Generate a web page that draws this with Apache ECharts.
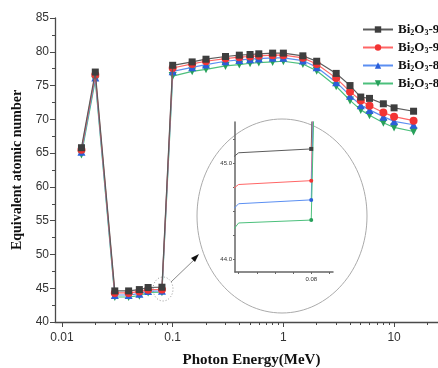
<!DOCTYPE html>
<html lang="en">

<head>
  <meta charset="UTF-8">
  <title>Equivalent atomic number</title>
  <script src="https://cdn.jsdelivr.net/npm/echarts@6/dist/echarts.min.js"></script>
  <style>
    html,
    body {
      margin: 0;
      padding: 0;
      background-color: #fff;
    }

    #chart {
      width: 438px;
      height: 368px;
    }
  </style>
</head>

<body>
  <div id="chart"></div>
  <script>
    // photon energies (MeV)
    const energy = [0.015, 0.02, 0.03, 0.04, 0.05, 0.06, 0.08, 0.1, 0.15, 0.2, 0.3, 0.4, 0.5, 0.6, 0.8, 1, 1.5, 2, 3, 4, 5, 6, 8, 10, 15];
    const names = ['Bi2O3-95', 'Bi2O3-90', 'Bi2O3-85', 'Bi2O3-80'];
    const zeqA = [65.8, 77.0, 44.6, 44.6, 44.8, 45.11, 45.15, 78.0, 78.5, 78.9, 79.3, 79.5, 79.6, 79.7, 79.8, 79.8, 79.4, 78.6, 76.8, 75.0, 73.3, 73.1, 72.3, 71.7, 71.2];
    const zeqB = [65.5, 76.6, 44.3, 44.3, 44.5, 44.78, 44.82, 77.6, 78.2, 78.6, 79.0, 79.2, 79.3, 79.4, 79.5, 79.5, 79.1, 78.2, 76.1, 74.1, 72.8, 72.0, 71.0, 70.4, 69.8];
    const zeqC = [65.2, 76.2, 44.0, 44.0, 44.2, 44.58, 44.62, 77.1, 77.7, 78.1, 78.6, 78.8, 78.9, 79.0, 79.1, 79.1, 78.7, 77.7, 75.5, 73.5, 72.1, 71.4, 70.4, 69.7, 69.2];
    const zeqD = [64.8, 75.8, 43.7, 43.7, 43.9, 44.38, 44.41, 76.4, 77.1, 77.4, 77.9, 78.1, 78.3, 78.4, 78.5, 78.6, 78.2, 77.2, 74.9, 72.8, 71.4, 70.6, 69.5, 68.8, 68.2];
    const minorTicksX = [0.02, 0.03, 0.04, 0.05, 0.06, 0.07, 0.08, 0.09, 0.2, 0.3, 0.4, 0.5, 0.6, 0.7, 0.8, 0.9, 2, 3, 4, 5, 6, 7, 8, 9, 20];
    const insetTicksX = [0.06, 0.065, 0.07, 0.075, 0.08, 0.085];
    const insetTicksY = [44, 44.25, 44.5, 44.75, 45, 45.25];

    const seriesValues = [zeqA, zeqB, zeqC, zeqD];
    const markColors = ['#3e3e3e', '#f23434', '#2b5fd9', '#27a05a'];
    const lineColors = ['#5c5c5c', '#ff6666', '#5b8ff2', '#4cc07c'];
    const symbols = ['rect', 'circle', 'triangle', 'triangle'];
    const rotates = [0, 0, 0, 180];

    const serif = 'Liberation Serif';
    const sans = 'Liberation Sans';
    const axisColor = '#4a4a4a';
    const mainGrid = { left: 55, top: 18, right: -10, bottom: 46, outerBoundsMode: 'none' };

    const series = [];
    seriesValues.forEach((vals, i) => {
      const pts = energy.map((e, k) => [e, vals[k]]);
      series.push({
        name: names[i],
        type: 'line',
        xAxisIndex: 0,
        yAxisIndex: 0,
        data: pts,
        symbol: symbols[i],
        symbolRotate: rotates[i],
        symbolSize: i === 0 ? 7 : 8,
        itemStyle: { color: markColors[i] },
        lineStyle: { color: lineColors[i], width: 1.2 },
        z: 10 - i
      });
    });
    // zoomed inset
    seriesValues.forEach((vals, i) => {
      const pts = energy.map((e, k) => [e, vals[k]]);
      series.push({
        name: names[i],
        type: 'line',
        xAxisIndex: 2,
        yAxisIndex: 1,
        data: pts,
        clip: true,
        symbol: i === 0 ? 'rect' : 'circle',
        symbolSize: v => (v[0] === 0.08 ? 4 : 0),
        itemStyle: { color: markColors[i] },
        lineStyle: { color: lineColors[i], width: 1 },
        silent: true
      });
    });

    const chart = echarts.init(document.getElementById('chart'));
    const option = {
      animation: false,
      legend: {
        data: names,
        orient: 'vertical',
        left: 357,
        top: 18,
        itemWidth: 30,
        itemHeight: 8,
        itemGap: 4,
        formatter: n => '{b|Bi}{s|2}{b|O}{s|3}{b|' + n.slice(5) + '}',
        textStyle: {
          fontFamily: serif,
          fontWeight: 'bold',
          color: '#111',
          rich: {
            b: { fontSize: 13, fontWeight: 'bold', fontFamily: serif, color: '#111', lineHeight: 15 },
            s: { fontSize: 8, fontWeight: 'bold', fontFamily: serif, color: '#111', padding: [7, 0, 0, 0] }
          }
        }
      },
      grid: [
        mainGrid,
        { left: 235, top: 122, width: 98, height: 150, outerBoundsMode: 'none' },
        mainGrid
      ],
      xAxis: [
        {
          type: 'log',
          gridIndex: 0,
          min: 0.00865,
          max: 30.7,
          name: 'Photon Energy(MeV)',
          nameLocation: 'middle',
          nameGap: 31,
          nameTextStyle: { fontFamily: serif, fontWeight: 'bold', fontSize: 15, color: '#111' },
          axisLine: { lineStyle: { color: axisColor, width: 1.3 } },
          axisTick: { length: 5, lineStyle: { color: axisColor } },
          axisLabel: { showMinLabel: false, showMaxLabel: false, fontFamily: sans, fontSize: 12, color: '#333', margin: 10 },
          splitLine: { show: false }
        },
        {
          // minor log ticks, drawn on a copy of the main grid
          type: 'log',
          gridIndex: 2,
          min: 0.00865,
          max: 30.7,
          axisLine: { show: false },
          axisTick: { length: 3, customValues: minorTicksX, lineStyle: { color: axisColor } },
          axisLabel: { show: false },
          splitLine: { show: false }
        },
        {
          type: 'value',
          gridIndex: 1,
          min: 0.059,
          max: 0.086,
          axisLine: { lineStyle: { color: '#666', width: 1.5 } },
          axisTick: { length: 2, customValues: insetTicksX, lineStyle: { color: '#666' } },
          axisLabel: { customValues: [0.08], fontFamily: sans, fontSize: 6, color: '#333', margin: 4 },
          splitLine: { show: false }
        }
      ],
      yAxis: [
        {
          type: 'value',
          gridIndex: 0,
          min: 40,
          max: 85,
          interval: 5,
          name: 'Equivalent atomic number',
          nameLocation: 'middle',
          nameGap: 29,
          nameTextStyle: { fontFamily: serif, fontWeight: 'bold', fontSize: 14, color: '#111' },
          axisLine: { show: true, lineStyle: { color: axisColor, width: 1.3 } },
          axisTick: { show: true, length: 5, lineStyle: { color: axisColor } },
          minorTick: { show: true, splitNumber: 2, length: 3, lineStyle: { color: axisColor } },
          axisLabel: { fontFamily: sans, fontSize: 12, color: '#333', margin: 6 },
          splitLine: { show: false }
        },
        {
          type: 'value',
          gridIndex: 1,
          min: 43.87,
          max: 45.43,
          axisLine: { show: true, lineStyle: { color: '#666', width: 1.5 } },
          axisTick: { show: true, length: 2, customValues: insetTicksY, lineStyle: { color: '#666' } },
          axisLabel: { customValues: [44, 45], formatter: v => v.toFixed(1), fontFamily: sans, fontSize: 6, color: '#333', margin: 3 },
          splitLine: { show: false }
        },
        {
          type: 'value',
          gridIndex: 2,
          min: 40,
          max: 85,
          show: false
        }
      ],
      graphic: [
        {
          type: 'ellipse',
          shape: { cx: 282, cy: 216, rx: 85, ry: 97 },
          style: { fill: 'none', stroke: '#aaa', lineWidth: 1 },
          silent: true
        },
        {
          type: 'ellipse',
          shape: { cx: 163, cy: 289, rx: 10, ry: 12 },
          style: { fill: 'none', stroke: '#999', lineWidth: 1, lineDash: [1, 2] },
          silent: true
        },
        {
          type: 'line',
          shape: { x1: 171, y1: 282, x2: 196, y2: 258 },
          style: { stroke: '#888', lineWidth: 1 },
          silent: true
        },
        {
          type: 'polygon',
          shape: { points: [[199, 254], [191, 258], [195, 262]] },
          style: { fill: '#111' },
          silent: true
        }
      ],
      series: series
    };
    chart.setOption(option);
  </script>
</body>

</html>
